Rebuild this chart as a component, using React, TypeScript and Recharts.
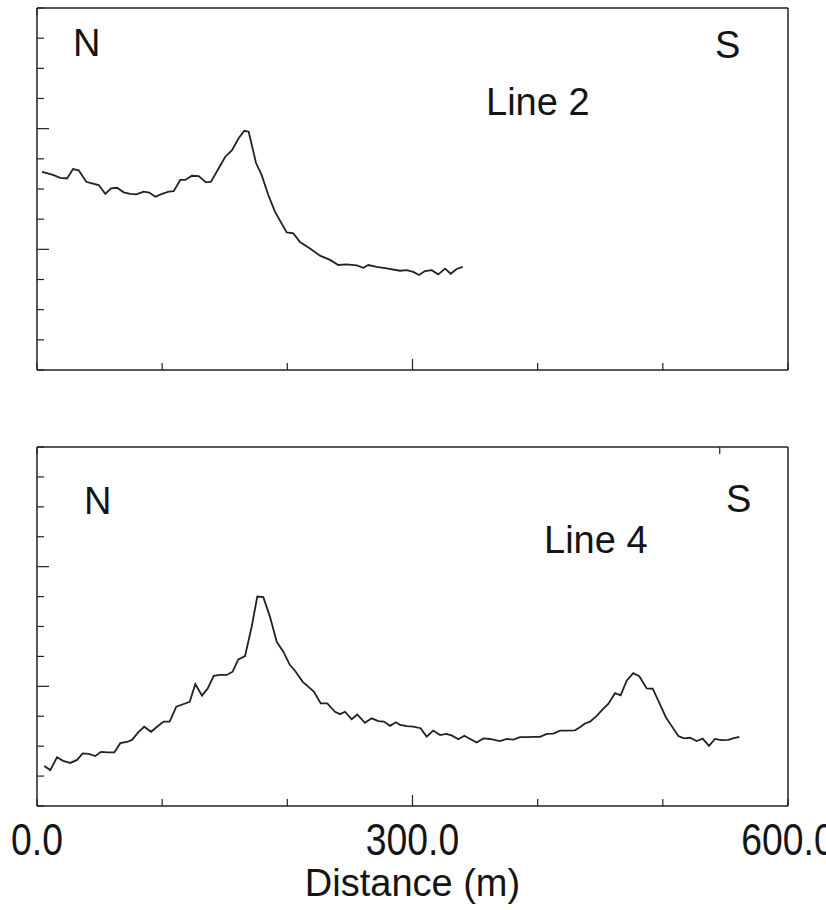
import { LineChart, Line, XAxis, YAxis, Label } from 'recharts'

// Line 2 profile (distance in m, anomaly in tick units)
const line2Dist = [4.0, 9.3, 13.3, 18.6, 24.0, 28.8, 33.3, 39.4, 43.9, 49.3, 54.6, 59.1, 63.9, 69.3, 74.5, 79.3, 85.2, 89.7, 94.5, 99.9, 105.2, 109.2, 114.5, 118.5, 123.8, 129.2, 135.0, 139.0, 145.2, 150.4, 155.8, 161.1, 165.6, 169.1, 175.0, 179.5, 184.8, 190.1, 199.5, 204.8, 210.1, 218.1, 226.1, 234.1, 240.7, 247.4, 255.4, 260.7, 264.7, 271.4, 279.4, 290.0, 295.4, 300.6, 305.2, 310.0, 315.3, 320.6, 326.0, 330.5, 335.3, 340.1]
const line2Val = [6.57, 6.51, 6.46, 6.37, 6.35, 6.66, 6.62, 6.24, 6.19, 6.13, 5.84, 6.02, 6.04, 5.89, 5.84, 5.82, 5.91, 5.88, 5.74, 5.84, 5.91, 5.93, 6.30, 6.30, 6.44, 6.43, 6.22, 6.24, 6.69, 7.07, 7.29, 7.68, 7.93, 7.90, 6.86, 6.46, 5.80, 5.25, 4.56, 4.53, 4.24, 4.03, 3.79, 3.65, 3.48, 3.50, 3.47, 3.39, 3.48, 3.42, 3.37, 3.29, 3.31, 3.25, 3.15, 3.28, 3.31, 3.17, 3.36, 3.19, 3.35, 3.42]

// Line 4 profile
const line4Dist = [5.8, 10.6, 16.0, 20.8, 26.6, 32.0, 36.5, 41.3, 46.6, 51.1, 56.5, 61.8, 66.5, 71.9, 75.9, 81.2, 85.7, 91.1, 95.9, 101.2, 106.0, 111.3, 117.2, 122.0, 126.5, 131.8, 136.4, 141.2, 146.2, 151.6, 156.3, 160.8, 166.2, 171.5, 176.0, 180.8, 186.1, 191.5, 196.8, 202.1, 206.1, 212.3, 216.7, 221.3, 226.7, 231.9, 238.1, 242.1, 246.1, 251.4, 255.9, 262.0, 267.4, 272.7, 277.2, 282.0, 286.8, 290.0, 295.4, 300.6, 306.5, 311.3, 316.6, 322.0, 326.8, 331.3, 336.6, 341.4, 346.5, 351.3, 356.6, 361.9, 369.9, 375.3, 380.5, 385.9, 391.2, 396.5, 401.9, 407.2, 412.5, 417.8, 423.2, 429.8, 433.8, 437.8, 441.8, 447.2, 451.9, 456.4, 461.8, 466.3, 471.1, 476.4, 481.2, 487.1, 491.9, 497.2, 502.5, 507.1, 512.4, 516.9, 521.7, 527.0, 531.8, 536.9, 541.7, 547.0, 552.3, 556.8, 561.1]
const line4Val = [1.34, 1.20, 1.63, 1.51, 1.44, 1.54, 1.76, 1.74, 1.67, 1.81, 1.79, 1.79, 2.10, 2.14, 2.21, 2.48, 2.65, 2.48, 2.65, 2.82, 2.82, 3.32, 3.41, 3.48, 4.08, 3.69, 3.93, 4.35, 4.38, 4.38, 4.49, 4.90, 5.01, 5.99, 7.00, 6.98, 6.33, 5.49, 5.16, 4.71, 4.52, 4.15, 3.99, 3.82, 3.43, 3.43, 3.15, 3.07, 3.15, 2.90, 3.06, 2.78, 2.93, 2.84, 2.82, 2.68, 2.80, 2.71, 2.67, 2.65, 2.60, 2.32, 2.52, 2.37, 2.41, 2.36, 2.23, 2.35, 2.23, 2.12, 2.26, 2.24, 2.17, 2.24, 2.22, 2.30, 2.30, 2.31, 2.31, 2.41, 2.42, 2.52, 2.52, 2.53, 2.63, 2.76, 2.82, 3.01, 3.23, 3.41, 3.77, 3.70, 4.19, 4.44, 4.34, 3.93, 3.92, 3.45, 2.96, 2.67, 2.34, 2.26, 2.28, 2.17, 2.25, 2.01, 2.24, 2.20, 2.21, 2.27, 2.31]

const xTicks = [0, 100, 200, 300, 400, 500, 600]
const xMajor = [300]
const xLabels: Record<number, string> = { 0: '0.0', 300: '300.0', 600: '600.0' }
const yTicks = [0, 1, 2, 3, 4, 5, 6, 7, 8, 9, 10, 11, 12]
const yMajor = [4, 8]

const INK = '#222'
const FONT = '"Liberation Sans", Arial, Helvetica, sans-serif'
const W = 826

const line2 = line2Dist.map((d, i) => ({ d, v: line2Val[i] }))
const line4 = line4Dist.map((d, i) => ({ d, v: line4Val[i] }))

const textStyle = { fontFamily: FONT, fontSize: 38, fill: '#141414' }

// tick marks are drawn inward, longer at the major positions
const xTick = (side: 'top' | 'bottom', withLabels: boolean) => (props: any) => {
    const { x, y, payload } = props
    const len = xMajor.includes(payload.value) ? 11 : 7
    const dir = side === 'bottom' ? -1 : 1
    const label = withLabels ? xLabels[payload.value] : undefined
    return (
        <g>
            <line x1={x} y1={y} x2={x} y2={y + dir * len} stroke={INK} strokeWidth={1.2} />
            {label && (
                // the scale numbers are set in a narrow face: taller, same width
                <text
                    transform={`translate(${x},${y + 49}) scale(0.83,1)`}
                    textAnchor="middle"
                    {...textStyle}
                    fontSize={45}
                >
                    {label}
                </text>
            )}
        </g>
    )
}

const yTick = (side: 'left' | 'right') => (props: any) => {
    const { x, y, payload } = props
    const len = yMajor.includes(payload.value) ? 12 : 7
    const dir = side === 'left' ? 1 : -1
    return <line x1={x} y1={y} x2={x + dir * len} y2={y} stroke={INK} strokeWidth={1.2} />
}

type PanelProps = {
    data: { d: number; v: number }[]
    height: number
    top: number
    axisHeight: number
    showLabels: boolean
}

// axes need a size of at least 1px or they are not drawn
const Panel = ({ data, height, top, axisHeight, showLabels }: PanelProps) => (
    <LineChart
        width={W}
        height={height}
        data={data}
        margin={{ top: top - 1, right: 37, bottom: showLabels ? 0 : 9, left: 36 }}
    >
        <XAxis
            dataKey="d"
            type="number"
            domain={[0, 600]}
            ticks={xTicks}
            interval={0}
            height={axisHeight}
            tickSize={0}
            tickMargin={0}
            tickLine={false}
            axisLine={{ stroke: INK, strokeWidth: 1.5 }}
            tick={xTick('bottom', showLabels)}
        >
            {showLabels && (
                <Label value="Distance (m)" position="insideBottom" offset={14} style={textStyle} />
            )}
        </XAxis>
        <XAxis
            xAxisId="top"
            orientation="top"
            type="number"
            domain={[0, 600]}
            ticks={xTicks}
            interval={0}
            height={1}
            tickSize={0}
            tickMargin={0}
            tickLine={false}
            axisLine={{ stroke: INK, strokeWidth: 1.5 }}
            tick={xTick('top', false)}
        />
        <YAxis
            type="number"
            domain={[0, 12]}
            ticks={yTicks}
            interval={0}
            width={1}
            tickSize={0}
            tickMargin={0}
            tickLine={false}
            axisLine={{ stroke: INK, strokeWidth: 1.5 }}
            tick={yTick('left')}
        />
        <YAxis
            yAxisId="right"
            orientation="right"
            type="number"
            domain={[0, 12]}
            ticks={yTicks}
            interval={0}
            width={1}
            tickSize={0}
            tickMargin={0}
            tickLine={false}
            axisLine={{ stroke: INK, strokeWidth: 1.5 }}
            tick={yTick('right')}
        />
        <Line
            type="linear"
            dataKey="v"
            stroke={INK}
            strokeWidth={1.8}
            dot={false}
            activeDot={false}
            isAnimationActive={false}
        />
    </LineChart>
)

const App = () => {
    return (
        <div style={{ position: 'absolute', left: 0, top: 0, width: W, height: 910, background: '#fff' }}>
            <Panel data={line2} height={380} top={8} axisHeight={1} showLabels={false} />
            <Panel data={line4} height={530} top={67} axisHeight={104} showLabels />

            <svg width={W} height={910} style={{ position: 'absolute', left: 0, top: 0, pointerEvents: 'none' }}>
                <text x={73} y={56} {...textStyle}>N</text>
                <text x={715} y={58} {...textStyle}>S</text>
                <text x={486} y={115} {...textStyle}>Line 2</text>
                <text x={84} y={514} {...textStyle}>N</text>
                <text x={726} y={512} {...textStyle}>S</text>
                <text x={544} y={553} {...textStyle}>Line 4</text>
            </svg>
        </div>
    )
}

export default App
